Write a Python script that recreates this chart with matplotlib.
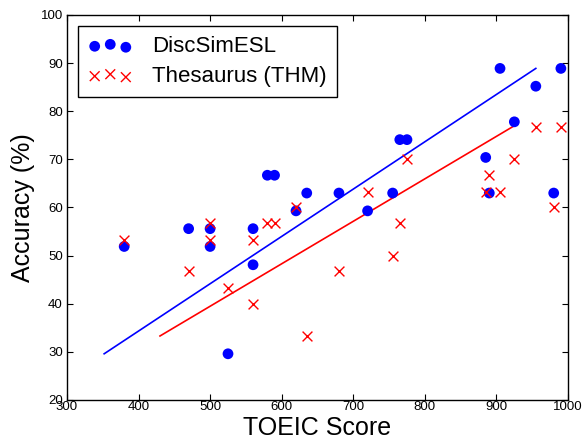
import matplotlib
matplotlib.use("Agg")
import matplotlib.pyplot as plt

plt.rcParams['font.family'] = ['Liberation Sans', 'DejaVu Sans']

# scores and accuracies
toeic = [380, 470, 500, 500, 525, 560, 560, 580, 590, 620, 635, 680,
         720, 755, 765, 775, 885, 890, 905, 925, 955, 980, 990]
disc_acc = [51.9, 55.6, 55.6, 51.9, 29.6, 55.6, 48.1, 66.7, 66.7, 59.3, 63.0, 63.0,
            59.3, 63.0, 74.1, 74.1, 70.4, 63.0, 88.9, 77.8, 85.2, 63.0, 88.9]
thm_acc = [53.3, 46.7, 56.7, 53.3, 43.3, 53.3, 40.0, 56.7, 56.7, 60.0, 33.3, 46.7,
           63.3, 50.0, 56.7, 70.0, 63.3, 66.7, 63.3, 70.0, 76.7, 60.0, 76.7]

# trend lines (end points)
disc_fit_x = [352, 955]
disc_fit_y = [29.6, 88.9]
thm_fit_x = [430, 924]
thm_fit_y = [33.3, 76.9]

fig = plt.figure(figsize=(5.82, 4.41), dpi=100)
ax = fig.add_axes([0.115, 0.093, 0.861, 0.873])

ax.scatter(toeic, disc_acc, s=60, c='#0000ff', edgecolors='none',
           label='DiscSimESL', zorder=3)
ax.scatter(toeic, thm_acc, s=50, marker='x', c='#ff0000', linewidths=1.0,
           label='Thesaurus (THM)', zorder=3)
ax.plot(disc_fit_x, disc_fit_y, color='#0000ff', lw=1.2)
ax.plot(thm_fit_x, thm_fit_y, color='#ff0000', lw=1.2)

ax.set_xlim(300, 1000)
ax.set_ylim(20, 100)
ax.set_xticks(range(300, 1001, 100))
ax.set_yticks(range(20, 101, 10))
ax.tick_params(direction='in', top=True, right=True, labelsize=9.5, length=4, width=0.8)
ax.tick_params(axis='x', pad=1)
ax.tick_params(axis='y', pad=3)
for sp in ax.spines.values():
    sp.set_linewidth(1.0)

ax.set_xlabel('TOEIC Score', fontsize=18, labelpad=2)
ax.set_ylabel('Accuracy (%)', fontsize=18, labelpad=4)

leg = ax.legend(loc='upper left', scatterpoints=3, fontsize=16, fancybox=False,
                edgecolor='black', framealpha=1, borderaxespad=0.5,
                handletextpad=0.9, borderpad=0.45, labelspacing=0.4)
leg.get_frame().set_linewidth(1.0)

fig.savefig('out.png', dpi=100)
